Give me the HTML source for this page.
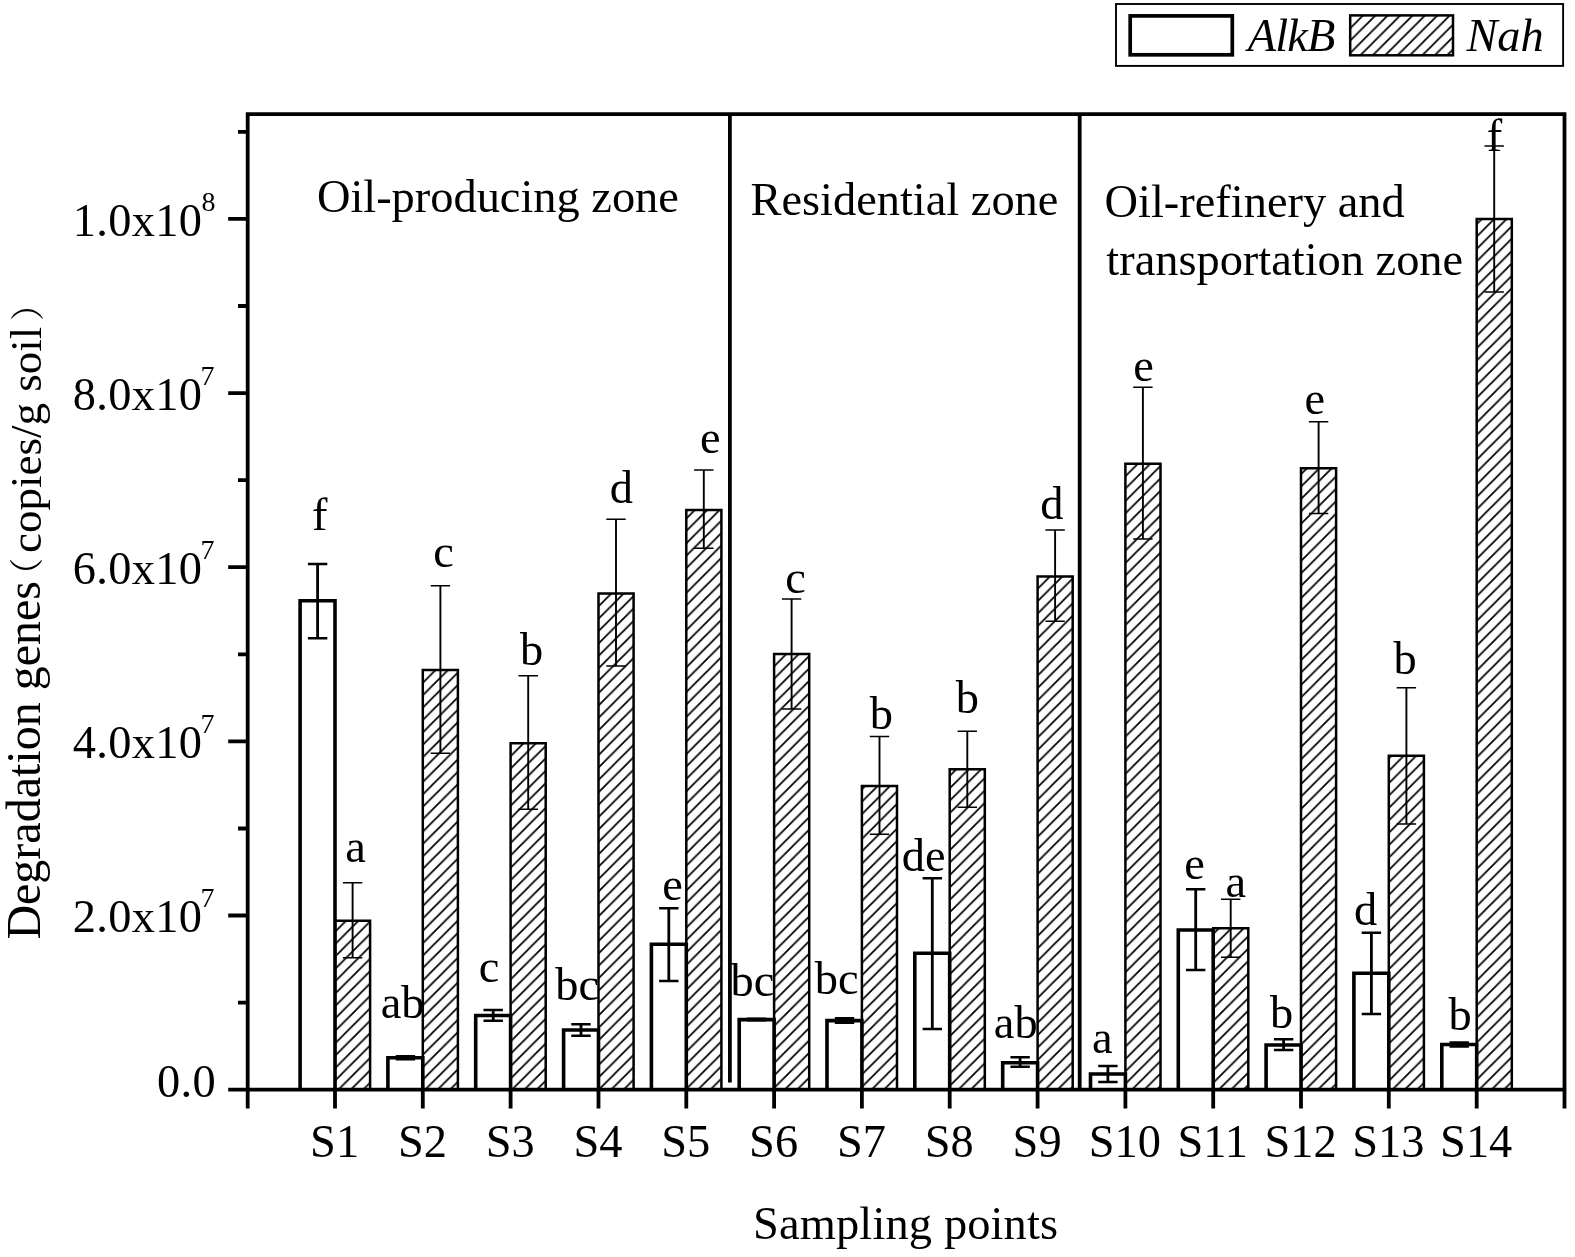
<!DOCTYPE html>
<html lang="en"><head><meta charset="utf-8"><title>Degradation genes by sampling point</title>
<style>
html,body{margin:0;padding:0;background:#fff;}
body{width:1575px;height:1257px;overflow:hidden;}
svg{display:block;filter:blur(0.45px);}
text{font-family:"Liberation Serif", "Noto Serif CJK SC", serif;font-size:46.4px;fill:#000;}
.it{font-style:italic;}
.sup{font-size:28px;}
.fr{stroke:#000;stroke-width:3.8;fill:none;}
.ba{stroke:#000;stroke-width:3.6;fill:#fff;stroke-linejoin:miter;}
.bn{stroke:#000;stroke-width:2.5;fill:url(#h);}
.ea{stroke:#000;stroke-width:2.8;fill:none;}
.eac{stroke:#000;stroke-width:2.4;fill:none;}
.en{stroke:#000;stroke-width:1.9;fill:none;}
.enc{stroke:#000;stroke-width:1.5;fill:none;}
</style></head><body>
<svg width="1575" height="1257" viewBox="0 0 1575 1257">
<defs>
<pattern id="h" patternUnits="userSpaceOnUse" width="12.4" height="12.4" patternTransform="translate(2.05 0)">
<rect width="12.4" height="12.4" fill="#fff"/>
<path d="M-1 1L1 -1M0 12.4L12.4 0M11.4 13.4L13.4 11.4" stroke="#000" stroke-width="1.75"/>
</pattern>
</defs>
<rect width="1575" height="1257" fill="#fff"/>

<g id="legend">
<rect x="1116" y="4" width="447.1" height="61.9" fill="#fff" stroke="#000" stroke-width="1.9"/>
<rect x="1130.2" y="15.9" width="102.1" height="38.9" fill="#fff" stroke="#000" stroke-width="3.7"/>
<text class="it" letter-spacing="-0.8" x="1247.7" y="51">AlkB</text>
<rect x="1350.2" y="15.4" width="102.8" height="39.9" fill="url(#h)" stroke="#000" stroke-width="2.5"/>
<text class="it" x="1466.4" y="51">Nah</text>
</g>
<g id="bars">
<path class="bn" d="M335.0 1089.7V920.7H370.1V1089.7"/>
<path class="en" d="M352.6 882.7V957.7"/><path class="enc" d="M342.9 882.7h19.4M342.9 957.7h19.4"/>
<path class="bn" d="M422.8 1089.7V670.0H457.9V1089.7"/>
<path class="en" d="M440.4 585.7V753.3"/><path class="enc" d="M430.7 585.7h19.4M430.7 753.3h19.4"/>
<path class="bn" d="M510.6 1089.7V743.3H545.7V1089.7"/>
<path class="en" d="M528.2 675.7V809.3"/><path class="enc" d="M518.5 675.7h19.4M518.5 809.3h19.4"/>
<path class="bn" d="M598.5 1089.7V593.4H633.6V1089.7"/>
<path class="en" d="M616.0 519.3V666.0"/><path class="enc" d="M606.3 519.3h19.4M606.3 666.0h19.4"/>
<path class="bn" d="M686.3 1089.7V510.0H721.4V1089.7"/>
<path class="en" d="M703.8 470.0V548.3"/><path class="enc" d="M694.1 470.0h19.4M694.1 548.3h19.4"/>
<path class="bn" d="M774.1 1089.7V654.0H809.2V1089.7"/>
<path class="en" d="M791.6 599.0V709.0"/><path class="enc" d="M781.9 599.0h19.4M781.9 709.0h19.4"/>
<path class="bn" d="M861.9 1089.7V786.0H897.0V1089.7"/>
<path class="en" d="M879.5 736.6V834.3"/><path class="enc" d="M869.8 736.6h19.4M869.8 834.3h19.4"/>
<path class="bn" d="M949.7 1089.7V769.3H984.8V1089.7"/>
<path class="en" d="M967.3 731.3V807.3"/><path class="enc" d="M957.6 731.3h19.4M957.6 807.3h19.4"/>
<path class="bn" d="M1037.6 1089.7V576.4H1072.7V1089.7"/>
<path class="en" d="M1055.1 530.1V621.3"/><path class="enc" d="M1045.4 530.1h19.4M1045.4 621.3h19.4"/>
<path class="bn" d="M1125.4 1089.7V463.7H1160.5V1089.7"/>
<path class="en" d="M1142.9 387.2V539.1"/><path class="enc" d="M1133.2 387.2h19.4M1133.2 539.1h19.4"/>
<path class="bn" d="M1213.2 1089.7V928.3H1248.3V1089.7"/>
<path class="en" d="M1230.7 899.3V957.3"/><path class="enc" d="M1221.0 899.3h19.4M1221.0 957.3h19.4"/>
<path class="bn" d="M1301.0 1089.7V468.2H1336.1V1089.7"/>
<path class="en" d="M1318.6 421.7V513.4"/><path class="enc" d="M1308.9 421.7h19.4M1308.9 513.4h19.4"/>
<path class="bn" d="M1388.8 1089.7V755.7H1423.9V1089.7"/>
<path class="en" d="M1406.4 687.7V823.9"/><path class="enc" d="M1396.7 687.7h19.4M1396.7 823.9h19.4"/>
<path class="bn" d="M1476.7 1089.7V219.0H1511.8V1089.7"/>
<path class="en" d="M1494.2 146.0V292.0"/><path class="enc" d="M1484.5 146.0h19.4M1484.5 292.0h19.4"/>
<path class="ba" d="M300.1 1089.7V600.7H335.0V1089.7"/>
<path class="ea" d="M317.6 564.0V638.3"/><path class="eac" d="M307.9 564.0h19.4M307.9 638.3h19.4"/>
<path class="ba" d="M387.9 1089.7V1057.8H422.8V1089.7"/>
<path class="ea" d="M405.4 1056.3V1059.3"/><path class="eac" d="M395.7 1056.3h19.4M395.7 1059.3h19.4"/>
<path class="ba" d="M475.7 1089.7V1015.5H510.6V1089.7"/>
<path class="ea" d="M493.2 1010.0V1020.7"/><path class="eac" d="M483.5 1010.0h19.4M483.5 1020.7h19.4"/>
<path class="ba" d="M563.6 1089.7V1030.0H598.5V1089.7"/>
<path class="ea" d="M581.0 1024.3V1035.7"/><path class="eac" d="M571.3 1024.3h19.4M571.3 1035.7h19.4"/>
<path class="ba" d="M651.4 1089.7V944.3H686.3V1089.7"/>
<path class="ea" d="M668.8 908.3V981.0"/><path class="eac" d="M659.1 908.3h19.4M659.1 981.0h19.4"/>
<path class="ba" d="M739.2 1089.7V1019.6H774.1V1089.7"/>
<path class="ea" d="M756.6 1018.8V1020.4"/><path class="eac" d="M746.9 1018.8h19.4M746.9 1020.4h19.4"/>
<path class="ba" d="M827.0 1089.7V1020.6H861.9V1089.7"/>
<path class="ea" d="M844.5 1018.3V1022.8"/><path class="eac" d="M834.8 1018.3h19.4M834.8 1022.8h19.4"/>
<path class="ba" d="M914.8 1089.7V953.3H949.7V1089.7"/>
<path class="ea" d="M932.3 878.3V1029.0"/><path class="eac" d="M922.6 878.3h19.4M922.6 1029.0h19.4"/>
<path class="ba" d="M1002.7 1089.7V1062.7H1037.6V1089.7"/>
<path class="ea" d="M1020.1 1057.3V1066.7"/><path class="eac" d="M1010.4 1057.3h19.4M1010.4 1066.7h19.4"/>
<path class="ba" d="M1090.5 1089.7V1074.0H1125.4V1089.7"/>
<path class="ea" d="M1107.9 1066.0V1082.0"/><path class="eac" d="M1098.2 1066.0h19.4M1098.2 1082.0h19.4"/>
<path class="ba" d="M1178.3 1089.7V930.0H1213.2V1089.7"/>
<path class="ea" d="M1195.7 889.3V970.0"/><path class="eac" d="M1186.0 889.3h19.4M1186.0 970.0h19.4"/>
<path class="ba" d="M1266.1 1089.7V1045.0H1301.0V1089.7"/>
<path class="ea" d="M1283.6 1039.3V1050.0"/><path class="eac" d="M1273.9 1039.3h19.4M1273.9 1050.0h19.4"/>
<path class="ba" d="M1353.9 1089.7V973.3H1388.8V1089.7"/>
<path class="ea" d="M1371.4 932.7V1014.0"/><path class="eac" d="M1361.7 932.7h19.4M1361.7 1014.0h19.4"/>
<path class="ba" d="M1441.8 1089.7V1044.5H1476.7V1089.7"/>
<path class="ea" d="M1459.2 1042.5V1046.5"/><path class="eac" d="M1449.5 1042.5h19.4M1449.5 1046.5h19.4"/>
</g>
<g id="dividers">
<path class="fr" d="M729.9 114.2V1082.5"/>
<path class="fr" d="M1079.7 114.2V1089.7"/>
</g>
<g id="axes">
<path class="fr" d="M247.7 1108.6V114.2H1564.5V1108.6" stroke-linejoin="miter"/>
<path class="fr" d="M228.2 1089.7H1566.1"/>
<path class="fr" d="M228.2 915.5H247.7M228.2 741.4H247.7M228.2 567.2H247.7M228.2 393.1H247.7M228.2 218.9H247.7M238 1002.6H247.7M238 828.5H247.7M238 654.3H247.7M238 480.1H247.7M238 306.0H247.7M238 131.8H247.7"/>
<path class="fr" d="M335.0 1089.7V1108.6M422.8 1089.7V1108.6M510.6 1089.7V1108.6M598.5 1089.7V1108.6M686.3 1089.7V1108.6M774.1 1089.7V1108.6M861.9 1089.7V1108.6M949.7 1089.7V1108.6M1037.6 1089.7V1108.6M1125.4 1089.7V1108.6M1213.2 1089.7V1108.6M1301.0 1089.7V1108.6M1388.8 1089.7V1108.6M1476.7 1089.7V1108.6"/>
</g>
<g id="ylabels">
<text font-size="47" letter-spacing="0.3" x="157.1" y="1097">0.0</text>
<text font-size="47" letter-spacing="0.3" x="72.8" y="932.3">2.0x10<tspan class="sup" x="200.6" dy="-25">7</tspan></text>
<text font-size="47" letter-spacing="0.3" x="72.8" y="758.2">4.0x10<tspan class="sup" x="200.6" dy="-25">7</tspan></text>
<text font-size="47" letter-spacing="0.3" x="72.8" y="584.0">6.0x10<tspan class="sup" x="200.6" dy="-25">7</tspan></text>
<text font-size="47" letter-spacing="0.3" x="72.8" y="409.9">8.0x10<tspan class="sup" x="200.6" dy="-25">7</tspan></text>
<text font-size="47" letter-spacing="0.3" x="72.8" y="235.7">1.0x10<tspan class="sup" x="201.4" dy="-25">8</tspan></text>
</g>
<g id="xlabels">
<text text-anchor="middle" x="334.6" y="1157">S1</text>
<text text-anchor="middle" x="422.4" y="1157">S2</text>
<text text-anchor="middle" x="510.2" y="1157">S3</text>
<text text-anchor="middle" x="598.0" y="1157">S4</text>
<text text-anchor="middle" x="685.8" y="1157">S5</text>
<text text-anchor="middle" x="773.6" y="1157">S6</text>
<text text-anchor="middle" x="861.5" y="1157">S7</text>
<text text-anchor="middle" x="949.3" y="1157">S8</text>
<text text-anchor="middle" x="1037.1" y="1157">S9</text>
<text text-anchor="middle" x="1124.9" y="1157">S10</text>
<text text-anchor="middle" x="1212.7" y="1157">S11</text>
<text text-anchor="middle" x="1300.6" y="1157">S12</text>
<text text-anchor="middle" x="1388.4" y="1157">S13</text>
<text text-anchor="middle" x="1476.2" y="1157">S14</text>
</g>
<text font-size="46.7" letter-spacing="0.15" x="753.1" y="1238.7">Sampling points</text>
<text transform="rotate(-90)"><tspan x="-939.6" y="39.5" font-size="48">Degradation genes</tspan><tspan x="-592.3" y="39.2" font-size="34.3">（</tspan><tspan x="-552.9" y="41.2" font-size="45">copies/g soil</tspan><tspan x="-321" y="39.8" font-size="34.3">）</tspan></text>
<text x="316.9" y="211.7">Oil-producing zone</text>
<text x="750.5" y="215">Residential zone</text>
<text font-size="46" x="1104.6" y="216.7">Oil-refinery and</text>
<text font-size="46.2" x="1106.3" y="274.8">transportation zone</text>
<g id="letters">
<text x="312.0" y="529.9">f</text>
<text x="380.7" y="1018.1">ab</text>
<text x="478.8" y="982.4">c</text>
<text x="555.3" y="1000.3">bc</text>
<text x="662.3" y="899.9">e</text>
<text x="730.6" y="995.9">bc</text>
<text x="814.7" y="993.7">bc</text>
<text x="901.7" y="870.9">de</text>
<text x="993.8" y="1037.7">ab</text>
<text x="1091.9" y="1052.7">a</text>
<text x="1184.2" y="879.1">e</text>
<text x="1270.0" y="1028.1">b</text>
<text x="1354.0" y="924.9">d</text>
<text x="1448.4" y="1030.3">b</text>
<text x="345.3" y="862.3">a</text>
<text x="433.3" y="567.4">c</text>
<text x="520.0" y="665.4">b</text>
<text x="609.8" y="502.6">d</text>
<text x="700.1" y="452.7">e</text>
<text x="785.2" y="592.7">c</text>
<text x="869.8" y="728.5">b</text>
<text x="955.8" y="713.3">b</text>
<text x="1040.2" y="519.1">d</text>
<text x="1133.3" y="381.2">e</text>
<text x="1225.4" y="896.9">a</text>
<text x="1304.4" y="414.2">e</text>
<text x="1393.6" y="673.9">b</text>
<text x="1486.7" y="150.6">f</text>
</g>
</svg></body></html>
